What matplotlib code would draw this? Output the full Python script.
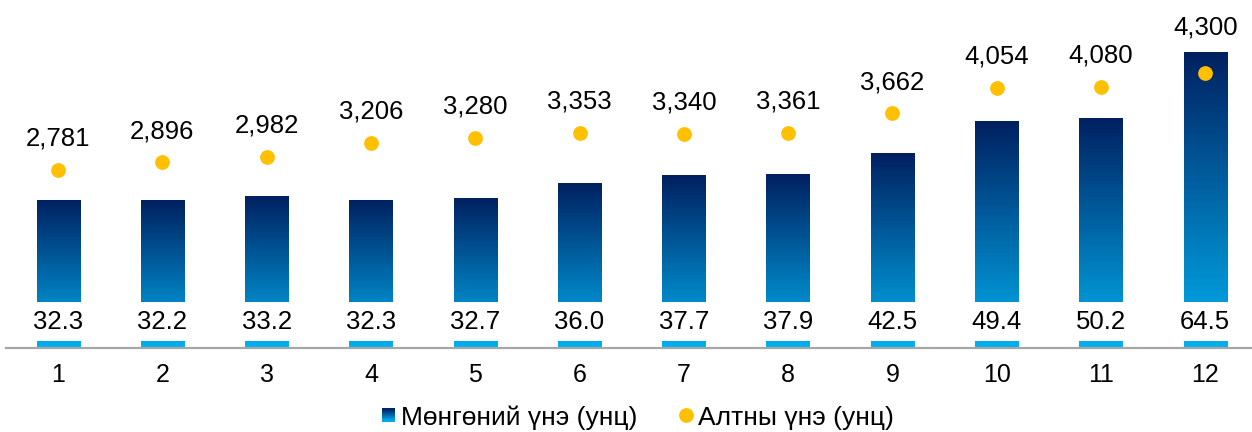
import matplotlib
matplotlib.use("Agg")
import matplotlib.pyplot as plt
import numpy as np
from matplotlib.colors import LinearSegmentedColormap
from matplotlib.patches import Rectangle
from matplotlib.lines import Line2D
from matplotlib.legend_handler import HandlerBase

plt.rcParams['font.family'] = ['Liberation Sans', 'DejaVu Sans']

categories = ['1', '2', '3', '4', '5', '6', '7', '8', '9', '10', '11', '12']
silver = [32.3, 32.2, 33.2, 32.3, 32.7, 36.0, 37.7, 37.9, 42.5, 49.4, 50.2, 64.5]
gold = [2781, 2896, 2982, 3206, 3280, 3353, 3340, 3361, 3662, 4054, 4080, 4300]
silver_label = 'Мөнгөний үнэ (унц)'
gold_label = 'Алтны үнэ (унц)'

DARK = '#002060'
LIGHT = '#00B0F0'
GOLD = '#FFC000'
cmap = LinearSegmentedColormap.from_list('g', [LIGHT, DARK])

Y1_MAX = 75.85
Y2_MAX = 5432

fig = plt.figure(figsize=(12.52, 4.32), dpi=100)
ax = fig.add_axes([6 / 1252, 84 / 432, 1251.4 / 1252, 348 / 432])
x = np.arange(1, len(categories) + 1)

bar_w = 0.415
bars = ax.bar(x, silver, width=bar_w, color='none', edgecolor='none', zorder=2)
grad = np.linspace(0, 1, 256).reshape(-1, 1)
for b in bars:
    x0 = b.get_x()
    w = b.get_width()
    h = b.get_height()
    im = ax.imshow(grad, extent=[x0, x0 + w, 0, h], origin='lower', cmap=cmap,
                   aspect='auto', zorder=2, interpolation='bilinear')
    im.set_clip_path(b)

# white label boxes over the lower part of each bar
strip_h = 1.5
box_h = 8.6
ax.bar(x, [box_h] * len(x), bottom=strip_h, width=bar_w + 0.02, color='white',
       edgecolor='none', zorder=3)
for xi, v in zip(x, silver):
    ax.annotate(f'{v:.1f}', xy=(xi, 0), xytext=(0, 18.6), textcoords='offset points',
                ha='center', va='center', fontsize=18.5, color='black', zorder=5)

ax.set_xlim(0.5, len(x) + 0.5)
ax.set_ylim(0, Y1_MAX)
ax.set_xticks(x)
ax.set_xticklabels(categories, fontsize=18)
ax.tick_params(axis='x', length=0, pad=10.5)
ax.set_yticks([])
for s in ['top', 'right', 'left']:
    ax.spines[s].set_visible(False)
ax.spines['bottom'].set_color('#A6A6A6')
ax.spines['bottom'].set_linewidth(1.6)
ax.spines['bottom'].set_zorder(4)

ax2 = ax.twinx()
ax2.plot(x, gold, 'o', ms=9.6, color=GOLD, linestyle='none', zorder=4)
for xi, v, s in zip(x, gold, silver):
    bar_top = s * Y2_MAX / Y1_MAX
    if bar_top > v:
        # dot sits inside the bar: put the label above the bar
        ax2.annotate(f'{v:,}', xy=(xi, bar_top), xytext=(0, 13), textcoords='offset points',
                     ha='center', va='baseline', fontsize=18.5, color='black')
    else:
        ax2.annotate(f'{v:,}', xy=(xi, v), xytext=(0, 17.5), textcoords='offset points',
                     ha='center', va='baseline', fontsize=18.5, color='black')
ax2.set_ylim(0, Y2_MAX)
ax2.set_yticks([])
for s in ['top', 'right', 'left', 'bottom']:
    ax2.spines[s].set_visible(False)
ax2.set_xlim(0.5, len(x) + 0.5)


class GradientHandler(HandlerBase):
    def create_artists(self, legend, orig_handle, xdescent, ydescent, width,
                       height, fontsize, trans):
        size = min(width, height * 1.35)
        x0 = -xdescent + (width - size) / 2
        y0 = -ydescent + (height - size) / 2
        n = 12
        arts = []
        for i in range(n):
            c = cmap(1 - (i + 0.5) / n)
            r = Rectangle((x0, y0 + size * (n - 1 - i) / n), size, size / n + 0.3,
                          facecolor=c, edgecolor='none', transform=trans)
            arts.append(r)
        return arts


sq = Rectangle((0, 0), 1, 1, facecolor=DARK)
dot = Line2D([], [], marker='o', color=GOLD, linestyle='none', markersize=9.6)
fig.legend([sq, dot], [silver_label, gold_label], loc='center',
           bbox_to_anchor=(0.5099, 0.034), ncol=2, frameon=False, fontsize=19,
           handler_map={Rectangle: GradientHandler()}, handlelength=0.49,
           handletextpad=0.22, columnspacing=1.6, borderpad=0)

fig.savefig('out.png', dpi=100)
